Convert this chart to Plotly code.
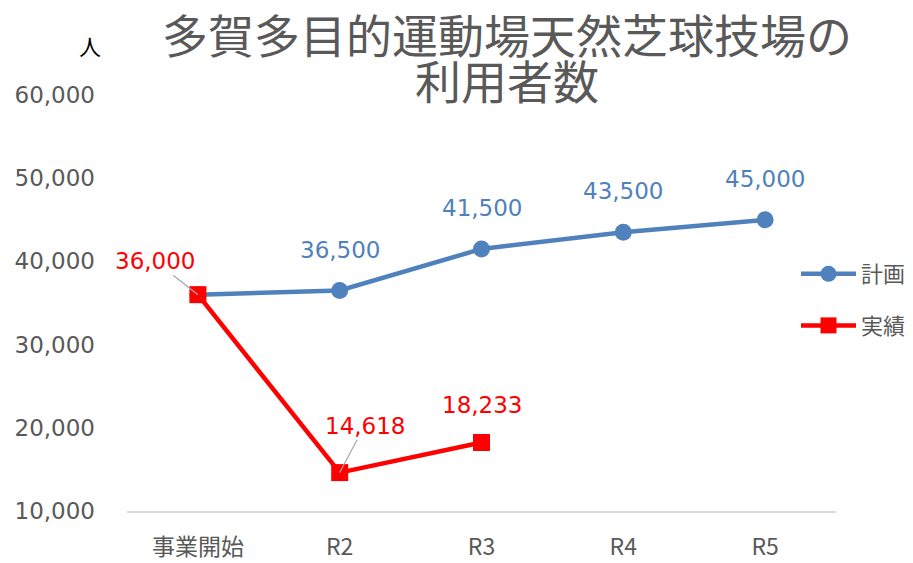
import plotly.graph_objects as go

categories = ["事業開始", "R2", "R3", "R4", "R5"]
plan_values = [36000, 36500, 41500, 43500, 45000]
actual_cats = ["事業開始", "R2", "R3"]
actual_values = [36000, 14618, 18233]
y_ticks = [10000, 20000, 30000, 40000, 50000, 60000]

BLUE = "#4F81BD"
RED = "#FF0000"
GRAY = "#595959"
FONT = "DejaVu Sans, Noto Sans CJK JP, sans-serif"
CJK = "Noto Sans CJK JP, sans-serif"

fig = go.Figure()
fig.add_trace(go.Scatter(
    x=categories, y=plan_values, name="計画", mode="lines+markers",
    line=dict(color=BLUE, width=4.5), marker=dict(symbol="circle", size=17, color=BLUE),
    legendgroup="a", cliponaxis=False,
))
fig.add_trace(go.Scatter(
    x=actual_cats, y=actual_values, name="実績", mode="lines+markers",
    line=dict(color=RED, width=4.5), marker=dict(symbol="square", size=17, color=RED),
    legendgroup="b", cliponaxis=False,
))

annotations = []
for c, v in zip(categories[1:], plan_values[1:]):
    annotations.append(dict(x=c, y=v, text=f"{v:,}", showarrow=False, yshift=41,
                            font=dict(color=BLUE, size=23, family=FONT)))
offsets = [(-43, -34, True), (25, -47, True), (0, -38, False)]
for (c, v), (ax, ay, arrow) in zip(zip(actual_cats, actual_values), offsets):
    if arrow:
        annotations.append(dict(x=c, y=v, text=f"{v:,}", showarrow=True, arrowhead=0,
                                arrowwidth=1.2, arrowcolor="#A6A6A6", ax=ax, ay=ay, standoff=0,
                                font=dict(color=RED, size=23, family=FONT)))
    else:
        annotations.append(dict(x=c, y=v, text=f"{v:,}", showarrow=False, yshift=-ay,
                                font=dict(color=RED, size=23, family=FONT)))

annotations.append(dict(xref="paper", yref="paper", x=(507 - 127) / 709, y=(511 - 33) / 416,
                        text="多賀多目的運動場天然芝球技場の", showarrow=False,
                        font=dict(size=46, color=GRAY, family=CJK), yanchor="middle"))
annotations.append(dict(xref="paper", yref="paper", x=(507 - 127) / 709, y=(511 - 79) / 416,
                        text="利用者数", showarrow=False,
                        font=dict(size=46, color=GRAY, family=CJK), yanchor="middle"))
annotations.append(dict(xref="paper", yref="paper", x=(77 - 127) / 709, y=(511 - 45) / 416,
                        text="人", showarrow=False,
                        font=dict(size=22, color="#000000", family=CJK), yanchor="middle"))

fig.update_layout(
    width=913, height=563,
    margin=dict(l=127, r=77, t=95, b=52, autoexpand=False),
    paper_bgcolor="white", plot_bgcolor="white",
    font=dict(family=FONT, color=GRAY, size=22),
    showlegend=True,
    legend=dict(x=(796 - 127) / 709, y=(511 - 300) / 416, xanchor="left", yanchor="middle",
                traceorder="grouped", tracegroupgap=20, itemwidth=55,
                font=dict(size=22, color=GRAY, family=CJK), bgcolor="rgba(0,0,0,0)"),
    annotations=annotations,
)
fig.update_xaxes(
    type="category", categoryorder="array", categoryarray=categories,
    range=[-0.5, 4.5], showgrid=False, showline=True, linecolor="#D9D9D9", linewidth=1.5,
    ticks="", ticklabelstandoff=15, zeroline=False, automargin=False,
    tickfont=dict(size=23, color=GRAY, family=CJK),
)
fig.update_yaxes(
    range=[10000, 60000], tickvals=y_ticks, ticktext=[f"{t:,}" for t in y_ticks],
    showgrid=False, showline=False, zeroline=False, ticks="", ticklabelstandoff=31,
    automargin=False,
    tickfont=dict(size=23, color=GRAY, family=FONT),
)

fig.write_html("out.html", config={"displayModeBar": False},
               post_script="document.body.style.margin='0';document.body.style.overflow='hidden';")
